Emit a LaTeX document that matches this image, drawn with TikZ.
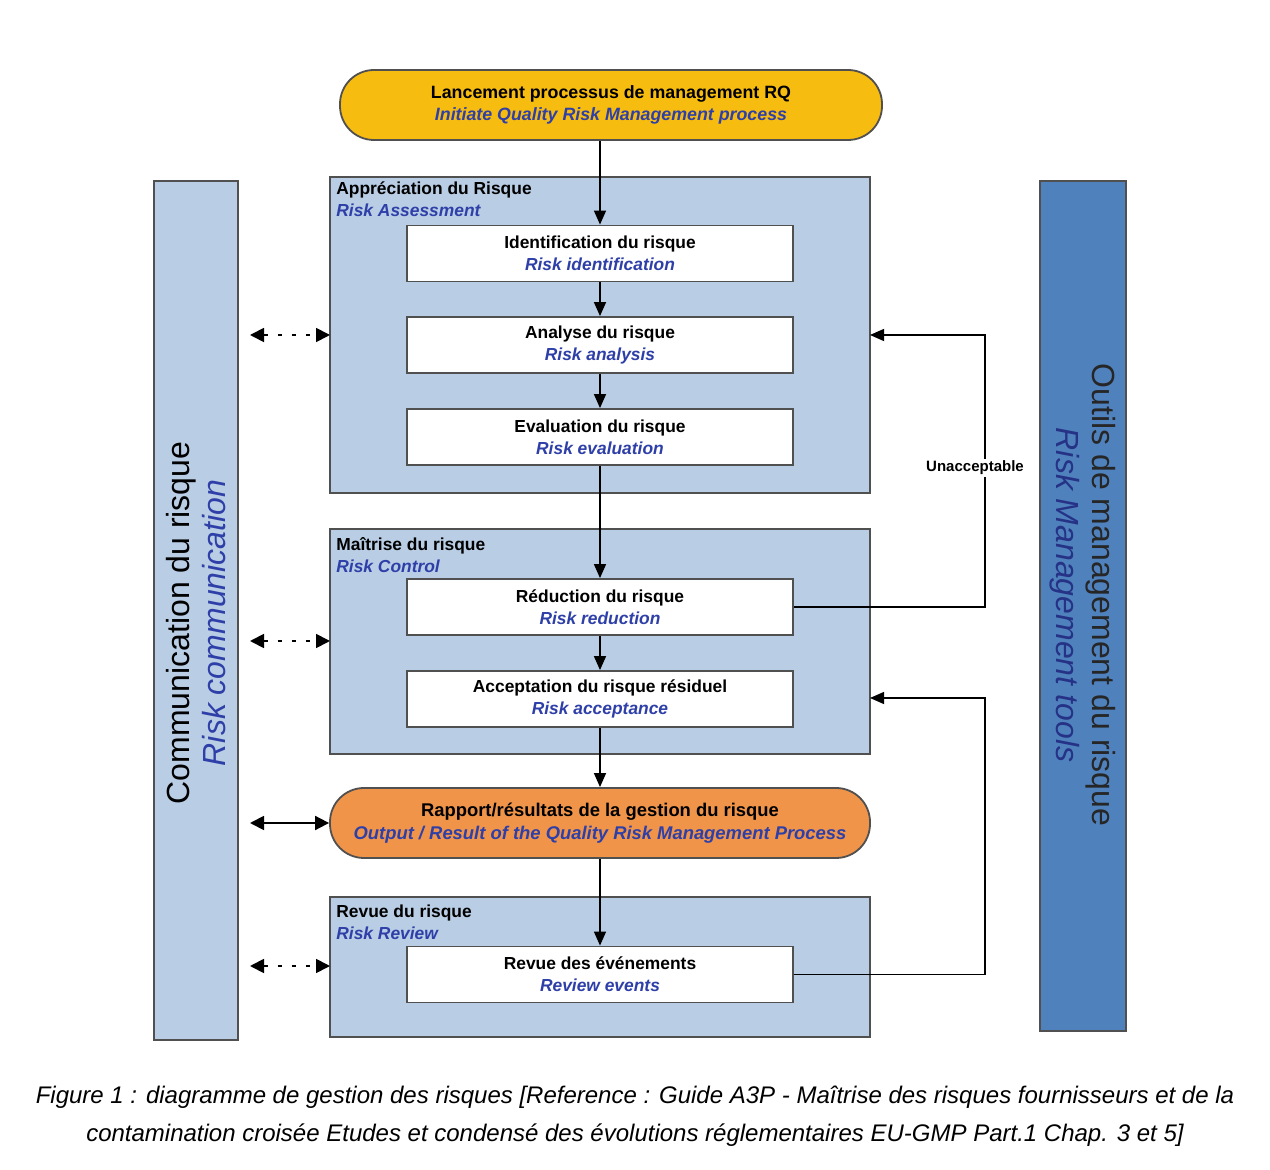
\documentclass[tikz,border=0pt]{standalone}
\usepackage{fontspec}
\setmainfont{Liberation Sans}
\usetikzlibrary{arrows.meta,positioning,calc}
\definecolor{yel}{HTML}{F7BC10}
\definecolor{org}{HTML}{F0944A}
\definecolor{lb}{HTML}{B9CDE5}
\definecolor{db}{HTML}{4F81BD}
\definecolor{tb}{HTML}{2E3FA8}
\definecolor{bd}{HTML}{505050}
\begin{document}
\begin{tikzpicture}[x=0.5pt,y=-0.5pt,
  box/.style={draw=bd,line width=0.9pt,fill=white,minimum width=193pt,minimum height=28pt,inner sep=0pt,align=center,font=\bfseries\fontsize{8.7}{11}\selectfont},
  grp/.style={draw=bd,line width=0.9pt,fill=lb},
  lbl/.style={anchor=north west,align=left,inner sep=0pt,font=\bfseries\fontsize{8.7}{11}\selectfont},
  arr/.style={-{Triangle[length=7pt,width=6pt]},line width=0.7pt},
  dar/.style={{Triangle[length=7pt,width=7pt]}-{Triangle[length=7pt,width=7pt]},line width=0.9pt,dash pattern=on 2pt off 5pt},
  sar/.style={{Triangle[length=7pt,width=7pt]}-{Triangle[length=7pt,width=7pt]},line width=0.9pt}]
\useasboundingbox (0,0) rectangle (1270,1170);
% side bars
\node[draw=bd,line width=0.9pt,fill=lb,minimum width=42pt,minimum height=429.5pt,inner sep=0pt] (comm) at (196,610.5) {};
\node[rotate=90,align=center,font=\fontsize{16}{20}\selectfont] at (196,623) {Communication du risque\\[-2pt]\textcolor{tb}{\itshape Risk communication}};
\node[draw=bd,line width=0.9pt,fill=db,minimum width=43pt,minimum height=425pt,inner sep=0pt] (tools) at (1083,606) {};
\node[rotate=-90,align=center,font=\fontsize{16}{20}\selectfont,text=black!85] at (1083,595) {Outils de management du risque\\[-2pt]\textcolor{tb!80!black}{\itshape Risk Management tools}};
% groups
\draw[grp] (330,177) rectangle (870,493); \coordinate (ga) at (870,335);
\draw[grp] (330,529) rectangle (870,754); \coordinate (gc) at (870,698);
\draw[grp] (330,897) rectangle (870,1037);
\node[lbl] at (336,181) {Appréciation du Risque\\\textcolor{tb}{\itshape Risk Assessment}};
\node[lbl] at (336,537) {Maîtrise du risque\\\textcolor{tb}{\itshape Risk Control}};
\node[lbl] at (336,904) {Revue du risque\\\textcolor{tb}{\itshape Risk Review}};
% top / output
\node[draw=bd,line width=0.9pt,fill=yel,rounded corners=17pt,minimum width=271pt,minimum height=35pt,align=center,font=\bfseries\fontsize{8.9}{11}\selectfont] (init) at (611,105) {Lancement processus de management RQ\\\textcolor{tb}{\itshape Initiate Quality Risk Management process}};
\node[draw=bd,line width=0.9pt,fill=org,rounded corners=17pt,minimum width=270pt,minimum height=35pt,align=center,font=\bfseries\fontsize{9.2}{11.5}\selectfont] (out) at (600,823) {Rapport/résultats de la gestion du risque\\\textcolor{tb}{\itshape Output / Result of the Quality Risk Management Process}};
% inner boxes
\node[box] (id) at (600,253.5) {Identification du risque\\\textcolor{tb}{\itshape Risk identification}};
\node[box] (an) at (600,345) {Analyse du risque\\\textcolor{tb}{\itshape Risk analysis}};
\node[box] (ev) at (600,437) {Evaluation du risque\\\textcolor{tb}{\itshape Risk evaluation}};
\node[box] (rd) at (600,607) {Réduction du risque\\\textcolor{tb}{\itshape Risk reduction}};
\node[box] (ac) at (600,699) {Acceptation du risque résiduel\\\textcolor{tb}{\itshape Risk acceptance}};
\node[box] (re) at (600,974.5) {Revue des événements\\\textcolor{tb}{\itshape Review events}};
% flow
\draw[arr] (init.south -| id.north) -- (id.north);
\draw[arr] (id) -- (an);
\draw[arr] (an) -- (ev);
\draw[arr] (ev) -- (rd);
\draw[arr] (rd) -- (ac);
\draw[arr] (ac) -- (out.north -| ac.south);
\draw[arr] (out.south -| re.north) -- (re);
% feedback
\draw[arr] (rd.east) -- (985,607) -- (985,335) -- (ga);
\node[fill=white,inner sep=1pt,font=\bfseries\fontsize{7.5}{9}\selectfont] at (975,468) {Unacceptable};
\draw[arr] (re.east) -- (985,974.5) -- (985,698) -- (gc);
% communication arrows
\coordinate (c1) at (250,335); \coordinate (g1) at (330,335);
\coordinate (c2) at (250,641); \coordinate (g2) at (330,641);
\coordinate (c3) at (250,823); \coordinate (c4) at (250,966); \coordinate (g4) at (330,966);
\draw[dar] (c1) -- (g1);
\draw[dar] (c2) -- (g2);
\draw[sar] (c3) -- (out.west);
\draw[dar] (c4) -- (g4);
% caption
\node[align=center,font=\itshape\fontsize{12}{19}\selectfont] at (635,1116) {Figure 1 : diagramme de gestion des risques [Reference : Guide A3P - Maîtrise des risques fournisseurs et de la\\contamination croisée Etudes et condensé des évolutions réglementaires EU-GMP Part.1 Chap. 3 et 5]};
\end{tikzpicture}
\end{document}
